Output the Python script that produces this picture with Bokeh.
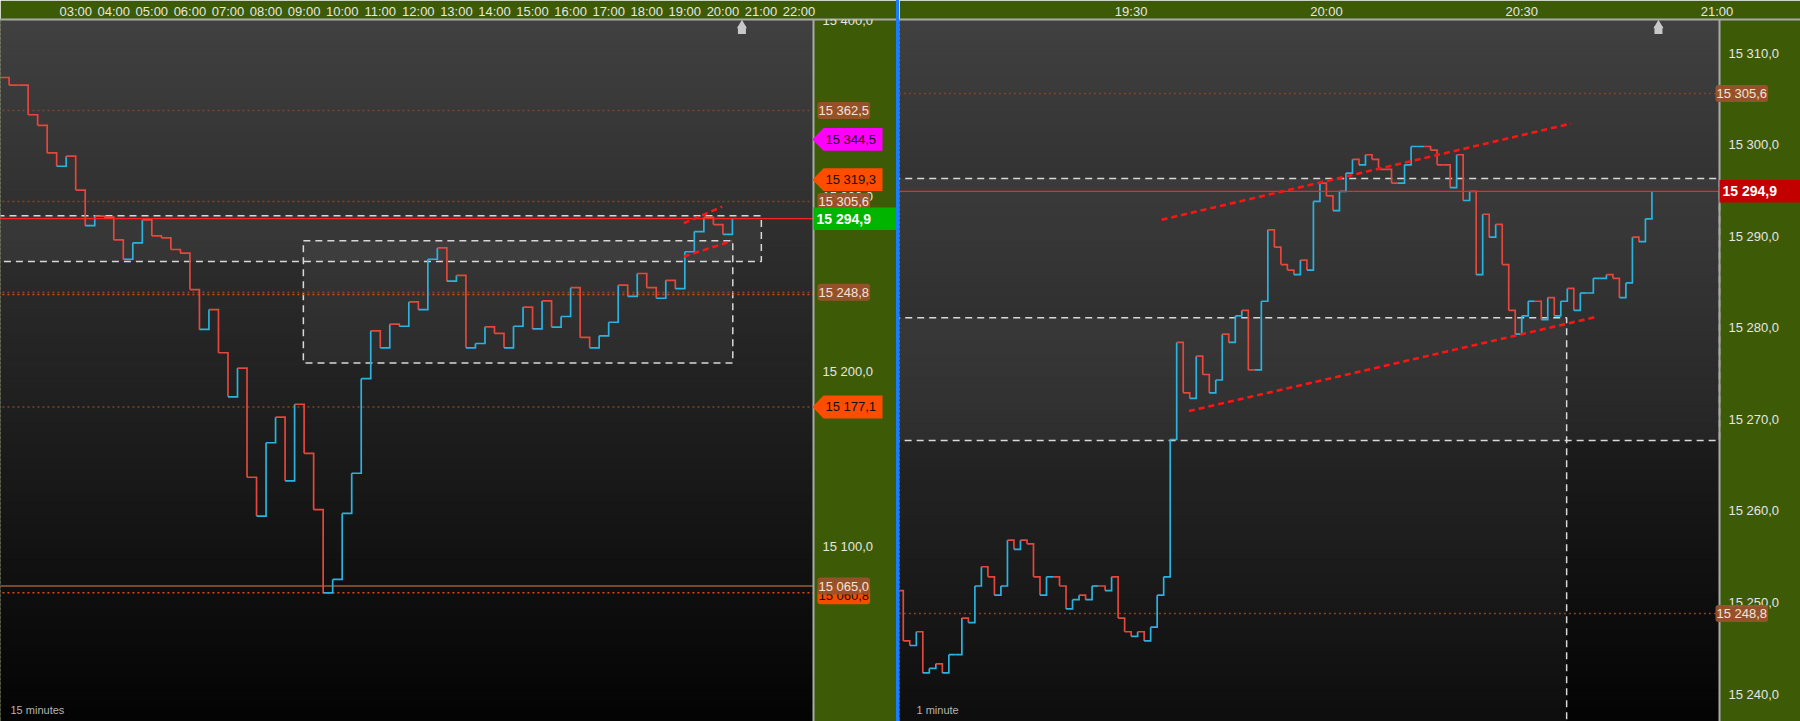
import numpy as np
from bokeh.plotting import figure
from bokeh.models import (PolyAnnotation, Label, FixedTicker, CustomJSTickFormatter,
                          Range1d, LinearAxis, Div)
from bokeh.layouts import row
from bokeh.embed import file_html
from bokeh.resources import INLINE

FONT = "Liberation Sans"
GREEN = "#3d5a06"
UP = "#2ab3df"
DOWN = "#e4473c"
BROWN_LINE = "#804524"
ORANGE_LINE = "#e0460f"

# ---------------- data ----------------
# left panel: 15-minute bars starting 01:00 (hours)
left_start = 1.0
left_step = 0.25
left_close = [15383.2, 15378.4, 15378.4, 15359.9, 15353.3, 15336.0, 15327.7, 15334.0, 15312.8, 15290.5,
              15296.5, 15295.8, 15281.6, 15269.5, 15279.8, 15294.1, 15284.1, 15282.9, 15275.6, 15273.3,
              15250.5, 15225.6, 15238.0, 15211.0, 15183.4, 15201.4, 15133.1, 15108.8, 15154.7, 15170.7,
              15130.9, 15178.8, 15148.1, 15112.8, 15060.8, 15069.2, 15110.5, 15135.6, 15194.8, 15224.7,
              15214.1, 15228.9, 15227.6, 15242.8, 15238.0, 15269.5, 15276.6, 15255.8, 15259.4, 15214.1,
              15216.8, 15227.2, 15223.1, 15214.1, 15227.6, 15239.6, 15225.9, 15243.4, 15227.0, 15233.7,
              15251.7, 15220.6, 15214.1, 15221.6, 15230.1, 15253.3, 15246.3, 15260.6, 15251.7, 15245.1,
              15256.3, 15251.1, 15274.2, 15286.8, 15295.7, 15291.2, 15285.1, 15294.9]

# right panel: 1-minute bars starting 18:54 (hours)
right_start = 18.9
right_step = 1.0 / 60.0
right_close = [15251.3, 15245.8, 15245.3, 15246.8, 15242.3, 15242.8, 15243.3, 15242.3, 15244.3, 15244.3,
               15248.3, 15247.8, 15251.8, 15253.9, 15252.8, 15250.8, 15251.8, 15256.8, 15255.8, 15256.8,
               15256.4, 15252.8, 15250.8, 15252.8, 15252.8, 15251.8, 15249.3, 15250.3, 15250.8, 15250.3,
               15251.8, 15251.8, 15251.3, 15252.8, 15248.3, 15246.8, 15246.3, 15246.8, 15245.8, 15247.3,
               15250.8, 15252.8, 15267.8, 15278.4, 15272.9, 15272.3, 15276.9, 15274.9, 15272.9, 15274.3,
               15279.3, 15278.4, 15281.3, 15281.9, 15275.4, 15275.4, 15282.9, 15290.7, 15288.8, 15286.9,
               15286.3, 15285.8, 15287.4, 15286.3, 15293.8, 15295.8, 15294.4, 15292.8, 15294.9, 15296.9,
               15298.4, 15297.8, 15298.9, 15298.4, 15297.3, 15297.3, 15295.8, 15295.8, 15297.8, 15299.8,
               15299.8, 15299.8, 15299.4, 15297.8, 15297.8, 15295.3, 15298.9, 15293.9, 15294.9, 15285.8,
               15292.4, 15289.9, 15291.3, 15286.9, 15281.9, 15279.3, 15281.3, 15282.9, 15282.9, 15280.9,
               15283.3, 15281.3, 15282.9, 15284.3, 15281.9, 15283.8, 15283.8, 15285.4, 15285.4, 15285.8,
               15285.4, 15283.3, 15284.9, 15289.9, 15289.4, 15291.9, 15294.9]

last_price = 15294.9

left_time_ticks = [3, 4, 5, 6, 7, 8, 9, 10, 11, 12, 13, 14, 15, 16, 17, 18, 19, 20, 21, 22]
right_time_ticks = [19.5, 20.0, 20.5, 21.0]
left_price_ticks = [15100, 15200, 15300, 15400]
right_price_ticks = [15240, 15250, 15260, 15270, 15280, 15290, 15300, 15310]

# horizontal levels: (value, kind)
left_levels = [(15362.5, "dot"), (15305.6, "dot"), (15248.8, "dot"), (15247.4, "dot_orange"),
               (15177.1, "dot"), (15065.0, "solid_brown"), (15060.8, "dot_orange")]
right_levels = [(15305.6, "dot"), (15248.8, "dot")]

# tags on the price scale: (value, kind)
left_tags = [(15060.8, "orange_box"), (15065.0, "brown"), (15362.5, "brown"), (15344.5, "magenta"),
             (15319.3, "orange"), (15305.6, "brown"), (15294.9, "green"), (15248.8, "brown"),
             (15177.1, "orange")]
right_tags = [(15305.6, "rbrown"), (15294.9, "red"), (15248.8, "rbrown")]

# range boxes: (left, right, bottom, top)
left_boxes = [(0.0, 21.01, 15268.1, 15296.7), (8.98, 20.26, 15204.6, 15281.1)]
right_boxes = [(18.0, 22.0, 15267.7, 15296.3), (18.0, 20.615, 15204.6, 15281.1)]

# trend lines: (t0, v0, t1, v1)
left_trends = [(18.973, 15292.0, 19.982, 15302.4), (18.973, 15271.2, 20.244, 15281.0)]
right_trends = [(19.578, 15291.8, 20.626, 15302.3), (19.648, 15270.9, 20.692, 15281.2)]

# visible time / price windows of the two panels
left_x = (1.0247, 22.380)
left_y = (14980.3, 15419.5)
left_axis_y = (15000.5, 15400.6)
right_x = (18.9070, 21.0063)
right_y = (15237.0, 15313.67)

H = 721
TOP = 16
FRAME_H = H - TOP
L_W, L_PLOT = 896, 813
SEP_W = 3
R_W, R_PLOT = 901, 820

TIME_FMT = """
const tot = Math.round(tick * 60);
const h = Math.floor(tot / 60), m = tot % 60;
return (h < 10 ? '0' : '') + h + ':' + (m < 10 ? '0' : '') + m;
"""
PRICE_FMT = """
const s = tick.toFixed(1);
const parts = s.split('.');
const i = parts[0];
const g = i.length > 3 ? i.slice(0, i.length - 3) + ' ' + i.slice(-3) : i;
return g + ',' + parts[1];
"""


def fmt_price(v):
    s = "%.1f" % v
    i, d = s.split(".")
    if len(i) > 3:
        i = i[:-3] + " " + i[-3:]
    return i + "," + d


def make_fig(width, plot_w, xr, yr):
    pxu = plot_w / (xr[1] - xr[0])
    x_full = (xr[0], xr[0] + width / pxu)
    p = figure(width=width, height=H, x_range=Range1d(*x_full), y_range=Range1d(*yr),
               x_axis_location="above", y_axis_location=None,
               output_backend="svg", toolbar_location=None,
               min_border_left=0, min_border_right=0, min_border_top=TOP, min_border_bottom=0,
               border_fill_color=GREEN, background_fill_color=GREEN, outline_line_color=None)
    p.xgrid.visible = False
    p.ygrid.visible = False
    return p, pxu, x_full


def style_axis(ax, size, standoff):
    ax.axis_line_color = "#a9a9a9"
    ax.axis_line_width = 2
    ax.major_tick_line_color = None
    ax.minor_tick_line_color = None
    ax.major_tick_out = 0
    ax.major_tick_in = 0
    ax.minor_tick_out = 0
    ax.minor_tick_in = 0
    ax.major_label_text_color = "#e6e6e6"
    ax.major_label_text_font = FONT
    ax.major_label_text_font_size = size
    ax.major_label_standoff = standoff


def background(p, xr, x_full, yr, n=160):
    edges = np.linspace(yr[0], yr[1], n + 1)
    frac = (np.arange(n) + 0.5) / n
    g = (4 + frac * 61).astype(int)
    cols = ["#%02x%02x%02x" % (v, v, v) for v in g]
    h = edges[1] - edges[0]
    p.quad(left=xr[0] - 1, right=xr[1], bottom=edges[:-1], top=edges[1:] + 0.4 * h,
           fill_color=cols, line_color=None, level="image")
    p.quad(left=[xr[1]], right=[x_full[1] + 1], bottom=[yr[0] - 10], top=[yr[1] + 10],
           fill_color=GREEN, line_color=None, level="image")


def series(p, start, step, closes):
    t = [start + i * step for i in range(len(closes))]
    xs, ys, cols = [], [], []
    prev = DOWN
    for k in range(len(closes) - 1):
        c0, c1 = closes[k], closes[k + 1]
        col = UP if c1 > c0 else (DOWN if c1 < c0 else prev)
        prev = col
        xs.append([t[k], t[k + 1], t[k + 1]])
        ys.append([c0, c0, c1])
        cols.append(col)
    p.multi_line(xs=xs, ys=ys, line_color=cols, line_width=1.7, line_join="miter")


def boxes(p, bx, x_edge):
    p.quad(left=[b[0] for b in bx], right=[min(b[1], x_edge) for b in bx], bottom=[b[2] for b in bx],
           top=[b[3] for b in bx], fill_color="white", fill_alpha=0.045,
           line_color="#d8d8d8", line_width=1.5, line_dash="7 5")


def levels(p, lv, xr):
    for v, kind in lv:
        if kind == "dot":
            kw = dict(line_color=BROWN_LINE, line_width=1.5, line_dash="2 3")
        elif kind == "dot_orange":
            kw = dict(line_color=ORANGE_LINE, line_width=1.5, line_dash="2 3")
        else:
            kw = dict(line_color="#7a4824", line_width=2)
        p.segment(x0=[xr[0] - 1], x1=[xr[1]], y0=[v], y1=[v], **kw)


def last_line(p, xr):
    p.segment(x0=[xr[0] - 1], x1=[xr[1]], y0=[last_price], y1=[last_price], line_color="#ff2424",
              line_width=1.3)


def trends(p, tr):
    p.segment(x0=[a[0] for a in tr], y0=[a[1] for a in tr], x1=[a[2] for a in tr],
              y1=[a[3] for a in tr], line_color="#ff1414", line_width=2.6, line_dash="6 4")


def tag(p, xe, pxu, pyu, v, kind, txt):
    def X(px):
        return xe + px / pxu

    def Y(py):
        return v + py / pyu

    if kind in ("brown", "rbrown", "orange_box"):
        x0 = 4 if kind != "rbrown" else -4
        if kind == "orange_box":
            fill, tcol, yoff = "#ff4d00", "#111111", -3
        else:
            fill, tcol, yoff = "#9a522c", "#f3e4d8", 0
        p.add_layout(Label(x=X(x0), y=Y(yoff), text=txt, text_color=tcol,
                           text_font=FONT, text_font_size="13px", text_baseline="middle",
                           text_align="left", background_fill_color=fill, background_fill_alpha=0.95,
                           padding=1, border_radius=3))
    elif kind in ("magenta", "orange"):
        fill = "#ff00ff" if kind == "magenta" else "#ff4d00"
        xs = [X(-1), X(10), X(69), X(69), X(10)]
        ys = [v, Y(11.5), Y(11.5), Y(-11.5), Y(-11.5)]
        p.add_layout(PolyAnnotation(xs=xs, ys=ys, fill_color=fill, fill_alpha=1.0, line_color=None))
        p.add_layout(Label(x=X(12), y=v, text=txt, text_color="#111111", text_font=FONT,
                           text_font_size="13px", text_baseline="middle", text_align="left"))
    elif kind in ("green", "red"):
        fill = "#00b400" if kind == "green" else "#c20000"
        w = 83 if kind == "green" else 82
        xs = [X(0), X(w), X(w), X(0)]
        ys = [Y(11.3), Y(11.3), Y(-11.3), Y(-11.3)]
        p.add_layout(PolyAnnotation(xs=xs, ys=ys, fill_color=fill, fill_alpha=1.0, line_color=None))
        p.add_layout(Label(x=X(3), y=v, text=txt, text_color="#ffffff", text_font=FONT,
                           text_font_size="14px", text_font_style="bold", text_baseline="middle",
                           text_align="left"))


def house(p, x, yr, pyu):
    p.scatter(x=[x], y=[yr[1] - 6 / pyu], marker="triangle", size=10, fill_color="#c8c8c8", line_color=None)
    p.scatter(x=[x], y=[yr[1] - 10.5 / pyu], marker="square", size=8, fill_color="#c8c8c8", line_color=None)


def panel(width, plot_w, xr, yr, closes, start, step, levels_, tags_, boxes_, trends_,
          time_ticks, price_ticks, axis_range, caption, caption_px):
    p, pxu, x_full = make_fig(width, plot_w, xr, yr)
    pyu = FRAME_H / (yr[1] - yr[0])
    if axis_range is not None:
        p.extra_y_ranges = {"axis": Range1d(*axis_range)}
        yax = LinearAxis(y_range_name="axis", fixed_location=xr[1])
    else:
        yax = LinearAxis(fixed_location=xr[1])
    p.add_layout(yax, "right")
    style_axis(yax, "13px", 9)
    yax.ticker = FixedTicker(ticks=price_ticks)
    yax.formatter = CustomJSTickFormatter(code=PRICE_FMT)
    tax = p.xaxis[0]
    style_axis(tax, "13px", 1)
    tax.ticker = FixedTicker(ticks=time_ticks)
    tax.formatter = CustomJSTickFormatter(code=TIME_FMT)

    background(p, xr, x_full, yr)
    boxes(p, boxes_, xr[1])
    levels(p, levels_, xr)
    series(p, start, step, closes)
    last_line(p, xr)
    trends(p, trends_)
    house(p, start + len(closes) * step, yr, pyu)
    for v, kind in tags_:
        tag(p, xr[1], pxu, pyu, v, kind, fmt_price(v))
    p.add_layout(Label(x=xr[0] + caption_px / pxu, y=yr[0] + 12 / pyu, text=caption,
                       text_color="#b4b4b4", text_font=FONT, text_font_size="11px", text_baseline="middle"))
    return p


pl = panel(L_W, L_PLOT, left_x, left_y, left_close, left_start, left_step, left_levels, left_tags,
           left_boxes, left_trends, left_time_ticks, left_price_ticks, left_axis_y, "15 minutes", 10)
pr = panel(R_W, R_PLOT, right_x, right_y, right_close, right_start, right_step, right_levels, right_tags,
           right_boxes, right_trends, right_time_ticks, right_price_ticks, None, "1 minute", 17)

sep = Div(width=SEP_W, height=H, styles={"background-color": "#1a7cff"}, margin=0)
layout = row(pl, sep, pr, spacing=0)

open("out.html", "w").write(file_html(layout, INLINE))
